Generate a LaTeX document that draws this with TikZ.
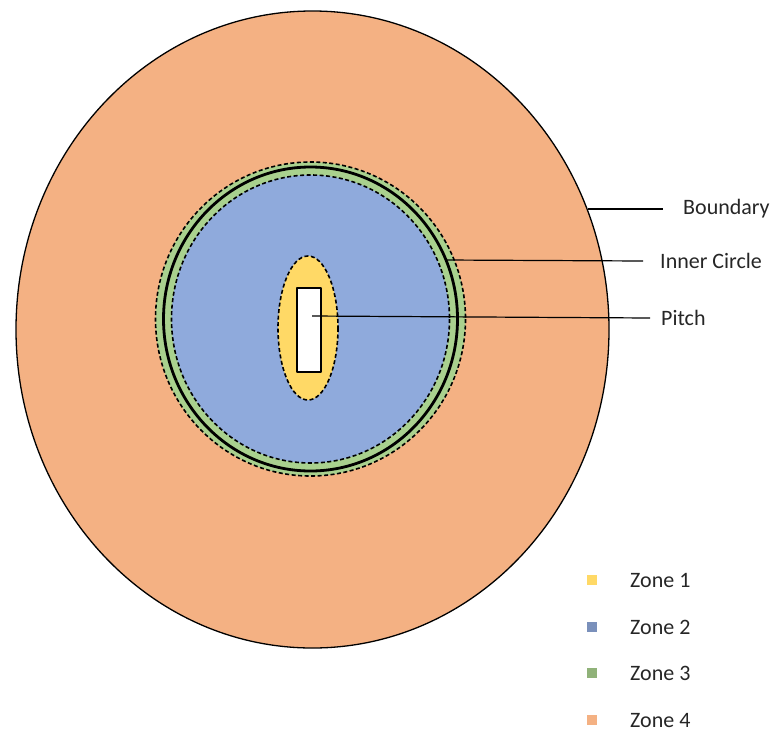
\documentclass[tikz,border=0pt]{standalone}
\usepackage{fontspec}
\setmainfont{Carlito}
\definecolor{zoneorange}{HTML}{F4B183}
\definecolor{zoneblue}{HTML}{8FAADC}
\definecolor{zonegreen}{HTML}{A9D18E}
\definecolor{zoneyellow}{HTML}{FFD966}
\begin{document}
\begin{tikzpicture}[x=1pt, y=-1pt, line join=round,
	zoneline/.style={dashed, dash pattern=on 4pt off 2.5pt, line width=1.6pt},
	leader/.style={line width=1.2pt, black},
	tag/.style={anchor=west, inner sep=0pt, text=black!85, font=\fontsize{22}{26}\selectfont},
	keybox/.style={minimum size=10pt, inner sep=0pt}]
	\useasboundingbox (0,0) rectangle (775,731);
	
	% 1. 外场 (边界)
	\fill[zoneorange] (312.5,329.5) ellipse [x radius=296.5, y radius=318.5];
	\draw[line width=1.3pt] (312.5,329.5) ellipse [x radius=296.5, y radius=318.5];
	
	% 2. 内圈: 绿环 + 蓝区
	\fill[zonegreen] (310.5,319) ellipse [x radius=155, y radius=157];
	\fill[zoneblue] (310.5,319) ellipse [x radius=139, y radius=144];
	\draw[zoneline] (310.5,319) ellipse [x radius=155, y radius=157];
	\draw[zoneline] (310.5,319) ellipse [x radius=139, y radius=144];
	\draw[line width=2.8pt] (310.5,319) ellipse [x radius=147, y radius=152];
	
	% 3. 球道区与球道
	\fill[zoneyellow] (308,328) ellipse [x radius=30, y radius=72];
	\draw[zoneline] (308,328) ellipse [x radius=30, y radius=72];
	\draw[fill=white, line width=1.3pt] (297,288) rectangle (321,372);
	
	% 4. 引线起点
	\coordinate (bndpt) at (588,209);
	\coordinate (innpt) at (445,260);
	\coordinate (pitpt) at (312,316);
	
	% 5. 标注
	\node[tag] (boundary) at (683,209) {Boundary};
	\node[tag] (inner) at (660,261) {Inner Circle};
	\node[tag] (pitch) at (661,318) {Pitch};
	\draw[leader] (bndpt) -- ([xshift=-20pt]boundary.west);
	\draw[leader] (innpt) -- ([xshift=-17pt]inner.west);
	\draw[leader] (pitpt) -- ([xshift=-11pt]pitch.west);
	
	% 6. 图例
	\node[keybox, fill=zoneyellow] (key1) at (592,580) {};
	\node[keybox, fill=zoneblue!85!black] (key2) at (592,627) {};
	\node[keybox, fill=zonegreen!85!black] (key3) at (592,673) {};
	\node[keybox, fill=zoneorange] (key4) at (592,720) {};
	\node[tag] (zone1) at (630,580) {Zone 1};
	\node[tag] (zone2) at (630,627) {Zone 2};
	\node[tag] (zone3) at (630,673) {Zone 3};
	\node[tag] (zone4) at (630,720) {Zone 4};
\end{tikzpicture}
\end{document}
